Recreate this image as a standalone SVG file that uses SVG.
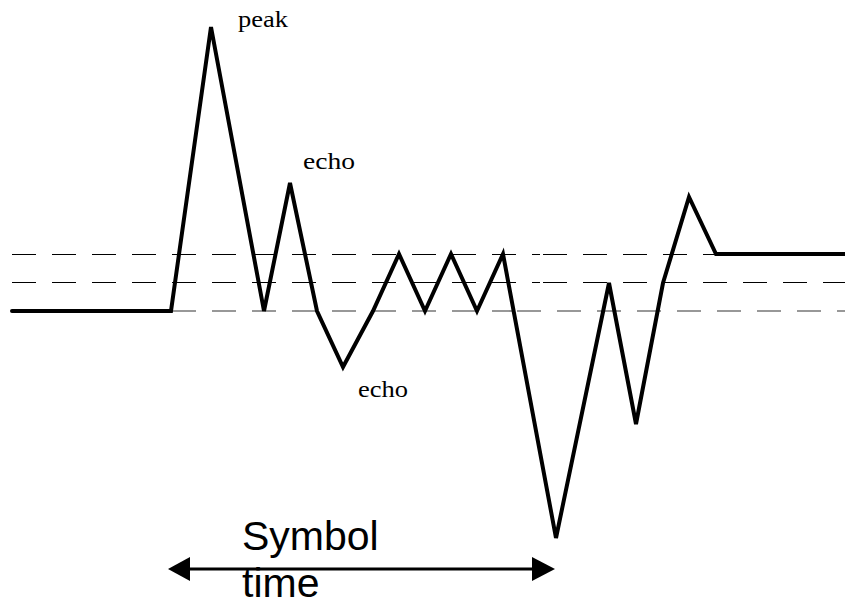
<svg xmlns="http://www.w3.org/2000/svg" width="845" height="602" viewBox="0 0 845 602">
<style>
.dash{stroke:#000;stroke-width:1;stroke-dasharray:24 16;fill:none}
.dashb{stroke:#777;stroke-width:1.6;stroke-dasharray:24 16;fill:none}
.sig{stroke:#000;stroke-width:4;fill:none;stroke-linejoin:miter;stroke-linecap:round}
.lbl{font-family:"Liberation Serif",serif;font-size:23px;fill:#000}
.big{font-family:"Liberation Sans",Arial,sans-serif;font-size:41px;fill:#000}
</style>
<g id="thresholds">
<path class="dash" d="M12,254.5 H540"/>
<path class="dash" d="M543,254.5 H845"/>
<path class="dash" d="M12,282.5 H540"/>
<path class="dash" d="M543,282.5 H845"/>
<path class="dashb" d="M12,311 H515"/>
<path class="dashb" d="M517,311 H845"/>
</g>
<g id="signal">
<polyline class="sig" points="12,311 171,311 211,27 264,311 290,183 317,311 343,367 373,311 399,254 425,311 451,254 477,311 503,254 556,538 609,283 636,424 663,283 689,197 716,254 845,254"/>
</g>
<g id="labels">
<text class="lbl" x="238" y="27" textLength="50" lengthAdjust="spacingAndGlyphs">peak</text>
<text class="lbl" x="303" y="169" textLength="52" lengthAdjust="spacingAndGlyphs">echo</text>
<text class="lbl" x="358" y="397" textLength="50" lengthAdjust="spacingAndGlyphs">echo</text>
</g>
<g id="connectors">
<line x1="190" y1="569" x2="532" y2="569" stroke="#000" stroke-width="3"/>
<path d="M168,569 L190,557 L190,581 z" fill="#000"/>
<path d="M555,569 L532,557 L532,581 z" fill="#000"/>
</g>
<g id="symbol-time">
<text class="big" x="242" y="550">Symbol</text>
<text class="big" x="242" y="597">time</text>
</g>
</svg>
